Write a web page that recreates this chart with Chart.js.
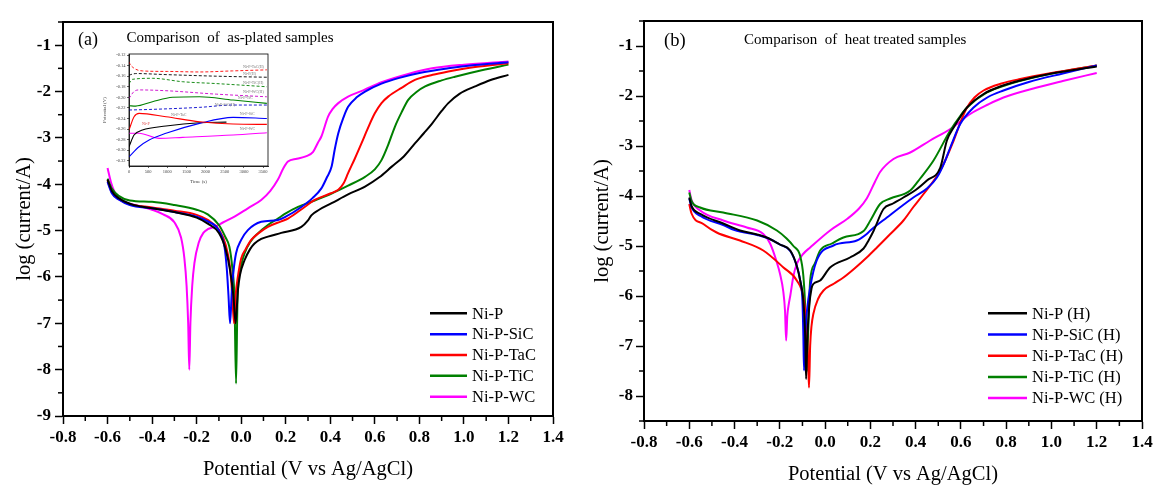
<!DOCTYPE html>
<html><head><meta charset="utf-8">
<script src="https://cdn.jsdelivr.net/npm/chart.js@4.4.1/dist/chart.umd.min.js"></script>
<style>
html,body{margin:0;padding:0;background:#fff;}
#wrap{position:relative;width:1169px;height:494px;overflow:hidden;background:#fff;}
canvas{position:absolute;}
</style></head><body>
<div id="wrap">
<canvas id="ca" width="585" height="494" style="left:0;top:0"></canvas>
<canvas id="cb" width="584" height="494" style="left:585px;top:0"></canvas>
<canvas id="ci" width="175" height="140" style="left:100px;top:48px"></canvas>
</div>
<script>
// ---------------- DATA ----------------
const seriesNames = ['Ni-P', 'Ni-P-SiC', 'Ni-P-TaC', 'Ni-P-TiC', 'Ni-P-WC'];
const seriesNamesH = ['Ni-P (H)', 'Ni-P-SiC (H)', 'Ni-P-TaC (H)', 'Ni-P-TiC (H)', 'Ni-P-WC (H)'];
const seriesColors = ['#000000', '#0000ff', '#ff0000', '#008000', '#ff00ff'];

const xTickVals = [-0.8, -0.6, -0.4, -0.2, 0.0, 0.2, 0.4, 0.6, 0.8, 1.0, 1.2, 1.4];
const yTickValsA = [-9, -8, -7, -6, -5, -4, -3, -2, -1];
const yTickValsB = [-8, -7, -6, -5, -4, -3, -2, -1];

// (a) as-plated: [potential V, log(current/A)]
const asPlatedNiP = [[-0.6,-3.9],[-0.58,-4.15],[-0.55,-4.3],[-0.5,-4.42],[-0.45,-4.48],[-0.4,-4.52],[-0.3,-4.6],[-0.2,-4.72],[-0.15,-4.85],[-0.1,-5.05],[-0.07,-5.4],[-0.05,-5.85],[-0.035,-6.4],[-0.025,-7.0],[-0.015,-6.3],[-0.005,-5.95],[0.015,-5.64],[0.04,-5.4],[0.06,-5.28],[0.09,-5.18],[0.12,-5.13],[0.18,-5.05],[0.27,-4.92],[0.3,-4.78],[0.315,-4.67],[0.35,-4.55],[0.406,-4.41],[0.48,-4.22],[0.556,-4.05],[0.62,-3.85],[0.676,-3.62],[0.73,-3.4],[0.78,-3.12],[0.82,-2.9],[0.857,-2.69],[0.9,-2.42],[0.93,-2.25],[0.98,-2.05],[1.05,-1.89],[1.12,-1.75],[1.2,-1.64]];
const asPlatedSiC = [[-0.6,-3.95],[-0.58,-4.2],[-0.55,-4.33],[-0.5,-4.45],[-0.4,-4.52],[-0.3,-4.6],[-0.2,-4.7],[-0.15,-4.8],[-0.1,-5.0],[-0.075,-5.35],[-0.065,-5.8],[-0.057,-6.4],[-0.05,-7.0],[-0.042,-6.3],[-0.035,-5.9],[-0.023,-5.49],[0.0,-5.2],[0.03,-4.99],[0.09,-4.81],[0.165,-4.77],[0.2,-4.7],[0.27,-4.49],[0.32,-4.3],[0.36,-4.09],[0.385,-3.85],[0.406,-3.62],[0.42,-3.25],[0.436,-2.9],[0.46,-2.55],[0.48,-2.33],[0.52,-2.12],[0.556,-2.0],[0.63,-1.83],[0.706,-1.71],[0.8,-1.6],[0.93,-1.5],[1.05,-1.43],[1.2,-1.37]];
const asPlatedTaC = [[-0.6,-3.92],[-0.58,-4.18],[-0.55,-4.32],[-0.5,-4.43],[-0.4,-4.5],[-0.3,-4.57],[-0.2,-4.66],[-0.15,-4.77],[-0.1,-4.98],[-0.07,-5.3],[-0.05,-5.8],[-0.04,-6.4],[-0.032,-7.0],[-0.025,-6.4],[-0.015,-6.0],[0.0,-5.6],[0.02,-5.4],[0.045,-5.2],[0.08,-5.05],[0.12,-4.92],[0.18,-4.8],[0.21,-4.74],[0.285,-4.49],[0.33,-4.34],[0.4,-4.2],[0.436,-4.12],[0.46,-3.98],[0.48,-3.76],[0.51,-3.45],[0.54,-3.12],[0.57,-2.78],[0.6,-2.47],[0.63,-2.25],[0.66,-2.11],[0.72,-1.92],[0.78,-1.75],[0.86,-1.64],[0.93,-1.57],[1.05,-1.47],[1.2,-1.39]];
const asPlatedTiC = [[-0.6,-3.88],[-0.58,-4.1],[-0.55,-4.25],[-0.5,-4.35],[-0.4,-4.38],[-0.3,-4.45],[-0.2,-4.55],[-0.15,-4.65],[-0.1,-4.88],[-0.07,-5.15],[-0.053,-5.35],[-0.04,-5.8],[-0.03,-6.5],[-0.023,-8.3],[-0.017,-6.6],[-0.012,-6.07],[0.0,-5.75],[0.015,-5.49],[0.04,-5.25],[0.075,-5.06],[0.12,-4.88],[0.165,-4.74],[0.2,-4.63],[0.255,-4.49],[0.33,-4.35],[0.406,-4.2],[0.48,-4.03],[0.556,-3.84],[0.6,-3.68],[0.63,-3.48],[0.66,-3.15],[0.69,-2.76],[0.72,-2.45],[0.75,-2.18],[0.79,-2.0],[0.826,-1.89],[0.9,-1.76],[0.96,-1.68],[1.08,-1.54],[1.2,-1.42]];
const asPlatedWC = [[-0.6,-3.65],[-0.585,-3.95],[-0.57,-4.15],[-0.55,-4.3],[-0.5,-4.42],[-0.45,-4.48],[-0.4,-4.55],[-0.35,-4.65],[-0.3,-4.82],[-0.27,-5.15],[-0.255,-5.6],[-0.245,-6.2],[-0.238,-7.0],[-0.233,-8.0],[-0.228,-7.0],[-0.22,-6.2],[-0.21,-5.7],[-0.19,-5.25],[-0.17,-5.05],[-0.15,-4.97],[-0.12,-4.92],[-0.08,-4.82],[-0.03,-4.7],[0.03,-4.52],[0.09,-4.34],[0.13,-4.15],[0.165,-3.9],[0.19,-3.65],[0.21,-3.51],[0.25,-3.45],[0.29,-3.4],[0.323,-3.3],[0.345,-3.1],[0.36,-2.97],[0.39,-2.54],[0.41,-2.38],[0.436,-2.25],[0.48,-2.11],[0.55,-1.97],[0.63,-1.8],[0.75,-1.62],[0.857,-1.5],[1.0,-1.42],[1.2,-1.35]];

// (b) heat treated
const heatNiP = [[-0.6,-4.03],[-0.59,-4.2],[-0.55,-4.36],[-0.45,-4.55],[-0.376,-4.69],[-0.3,-4.77],[-0.258,-4.83],[-0.2,-4.97],[-0.154,-5.09],[-0.125,-5.4],[-0.11,-5.69],[-0.096,-6.1],[-0.088,-6.8],[-0.084,-7.66],[-0.078,-6.8],[-0.07,-6.2],[-0.06,-5.85],[-0.052,-5.76],[-0.022,-5.69],[0.022,-5.43],[0.11,-5.23],[0.17,-5.05],[0.192,-4.89],[0.214,-4.7],[0.258,-4.26],[0.3,-4.15],[0.346,-4.03],[0.4,-3.88],[0.45,-3.69],[0.509,-3.43],[0.538,-2.89],[0.568,-2.63],[0.6,-2.4],[0.627,-2.23],[0.7,-1.96],[0.78,-1.8],[0.862,-1.69],[1.0,-1.55],[1.2,-1.41]];
const heatSiC = [[-0.6,-4.05],[-0.59,-4.22],[-0.55,-4.4],[-0.45,-4.58],[-0.4,-4.68],[-0.3,-4.78],[-0.25,-4.85],[-0.2,-4.97],[-0.154,-5.1],[-0.125,-5.4],[-0.11,-5.69],[-0.1,-6.1],[-0.096,-6.8],[-0.093,-7.49],[-0.088,-6.8],[-0.08,-6.3],[-0.066,-5.83],[-0.037,-5.29],[0.037,-4.99],[0.14,-4.89],[0.184,-4.76],[0.2,-4.69],[0.273,-4.43],[0.39,-4.03],[0.45,-3.85],[0.494,-3.63],[0.53,-3.3],[0.553,-3.03],[0.597,-2.56],[0.656,-2.23],[0.72,-2.02],[0.788,-1.89],[0.9,-1.72],[1.05,-1.55],[1.2,-1.39]];
const heatTaC = [[-0.6,-4.16],[-0.59,-4.35],[-0.538,-4.56],[-0.479,-4.73],[-0.376,-4.89],[-0.273,-5.09],[-0.184,-5.43],[-0.125,-5.69],[-0.096,-6.03],[-0.082,-6.6],[-0.075,-7.3],[-0.071,-7.83],[-0.066,-7.0],[-0.06,-6.6],[-0.052,-6.36],[-0.03,-6.05],[-0.007,-5.89],[0.04,-5.75],[0.081,-5.63],[0.13,-5.45],[0.184,-5.23],[0.229,-5.03],[0.288,-4.76],[0.346,-4.49],[0.39,-4.22],[0.435,-3.96],[0.509,-3.49],[0.568,-2.89],[0.6,-2.5],[0.627,-2.23],[0.66,-2.03],[0.7,-1.89],[0.78,-1.75],[0.862,-1.66],[1.0,-1.54],[1.2,-1.39]];
const heatTiC = [[-0.6,-3.93],[-0.59,-4.1],[-0.552,-4.23],[-0.45,-4.33],[-0.3,-4.49],[-0.213,-4.69],[-0.17,-4.85],[-0.14,-5.0],[-0.11,-5.2],[-0.096,-5.6],[-0.088,-6.2],[-0.083,-6.9],[-0.08,-7.5],[-0.076,-6.9],[-0.07,-6.1],[-0.066,-5.69],[-0.045,-5.35],[-0.022,-5.09],[0.03,-4.95],[0.081,-4.83],[0.17,-4.7],[0.2,-4.49],[0.243,-4.16],[0.288,-4.05],[0.376,-3.89],[0.42,-3.65],[0.479,-3.29],[0.553,-2.69],[0.6,-2.38],[0.627,-2.23],[0.715,-1.93],[0.8,-1.78],[0.95,-1.6],[1.2,-1.39]];
const heatWC = [[-0.6,-3.88],[-0.59,-4.08],[-0.552,-4.29],[-0.45,-4.49],[-0.346,-4.63],[-0.273,-4.76],[-0.243,-4.95],[-0.215,-5.3],[-0.199,-5.56],[-0.185,-5.9],[-0.177,-6.3],[-0.172,-6.89],[-0.167,-6.4],[-0.16,-6.15],[-0.154,-6.0],[-0.14,-5.6],[-0.125,-5.36],[-0.095,-5.15],[-0.066,-5.03],[0.022,-4.69],[0.1,-4.45],[0.15,-4.25],[0.184,-4.05],[0.22,-3.72],[0.243,-3.52],[0.302,-3.26],[0.376,-3.13],[0.464,-2.89],[0.553,-2.66],[0.641,-2.36],[0.72,-2.17],[0.788,-2.03],[0.936,-1.83],[1.05,-1.7],[1.2,-1.54]];

// inset: open circuit potential vs time  [time s, potential V]
const insetTimeTicks = [0, 500, 1000, 1500, 2000, 2500, 3000, 3500];
const insetPotTicks = [-0.32, -0.30, -0.28, -0.26, -0.24, -0.22, -0.20, -0.18, -0.16, -0.14, -0.12];
const ocpTaCH = [[0,-0.133],[18,-0.136],[132,-0.145],[350,-0.150],[1000,-0.151],[1842,-0.152],[2700,-0.150],[3600,-0.148]];
const ocpNiPH = [[0,-0.158],[45,-0.157],[176,-0.155],[966,-0.157],[2282,-0.160],[3600,-0.162]];
const ocpTiCH = [[0,-0.174],[87,-0.166],[613,-0.164],[1403,-0.1705],[2282,-0.174],[3600,-0.180]];
const ocpWCH = [[0,-0.202],[132,-0.189],[263,-0.186],[966,-0.1875],[2282,-0.194],[3600,-0.199]];
const ocpSiCH = [[0,-0.224],[526,-0.223],[1842,-0.219],[2718,-0.2146],[3600,-0.2146]];
const ocpTiC = [[0,-0.216],[176,-0.2166],[613,-0.2083],[1139,-0.200],[1842,-0.1989],[2718,-0.2052],[3600,-0.2114]];
const ocpTaC = [[0,-0.262],[132,-0.2367],[263,-0.2303],[966,-0.2367],[1842,-0.2462],[2718,-0.2506],[3600,-0.2512]];
const ocpSiC = [[0,-0.3125],[263,-0.2935],[526,-0.2808],[966,-0.2681],[1842,-0.2493],[2718,-0.2379],[3600,-0.240]];
const ocpNiP = [[0,-0.2935],[132,-0.2714],[350,-0.262],[966,-0.2543],[1842,-0.248],[2545,-0.247]];
const ocpWC = [[0,-0.268],[263,-0.268],[789,-0.2777],[1403,-0.2758],[2718,-0.2714],[3600,-0.267]];
const insetLabelText = ['Ni-P-TaC(H)', 'Ni-P(H)', 'Ni-P-TiC(H)', 'Ni-P-WC(H)', 'Ni-P-TiC', 'Ni-P-SiC(H)', 'Ni-P-SiC', 'Ni-P-TaC', 'Ni-P', 'Ni-P-WC'];
const insetLabelT = [2974, 2974, 2974, 2974, 2842, 2237, 2895, 1097, 342, 2895];
const insetLabelV = [-0.1427, -0.1554, -0.173, -0.1906, -0.2014, -0.214, -0.231, -0.234, -0.251, -0.26];

// ---------------- RENDERING ----------------
const SERIF = "'Liberation Serif', 'Times New Roman', serif";
const toXY = arr => arr.map(p => ({x: p[0], y: p[1]}));

const decor = {
  id: 'decor',
  afterDraw(chart, args, o) {
    const ctx = chart.ctx, a = chart.chartArea;
    ctx.save();
    ctx.strokeStyle = '#000';
    ctx.lineWidth = o.frameWidth || 1;
    ctx.strokeRect(a.left, a.top, a.right - a.left, a.bottom - a.top);
    // minor ticks
    if (o.minorX) {
      const s = chart.scales.x; ctx.lineWidth = o.minorWidth || 1.2;
      const tv = s.ticks.map(t => t.value);
      for (let i = 0; i < tv.length - 1; i++) {
        const px = s.getPixelForValue((tv[i] + tv[i + 1]) / 2);
        ctx.beginPath(); ctx.moveTo(px, a.bottom); ctx.lineTo(px, a.bottom + o.minorLen); ctx.stroke();
      }
    }
    if (o.minorY) {
      const s = chart.scales.y; ctx.lineWidth = o.minorWidth || 1.2;
      const tv = s.ticks.map(t => t.value);
      const all = [];
      for (let i = 0; i < tv.length - 1; i++) all.push((tv[i] + tv[i + 1]) / 2);
      all.push(tv[tv.length - 1] + (tv[1] - tv[0]) / 2);
      if (tv[0] - (tv[1] - tv[0]) / 2 >= s.min) all.push(tv[0] - (tv[1] - tv[0]) / 2);
      all.forEach(v => {
        if (v < s.min || v > s.max) return;
        const py = s.getPixelForValue(v);
        ctx.beginPath(); ctx.moveTo(a.left, py); ctx.lineTo(a.left - o.minorLen, py); ctx.stroke();
      });
    }
    // texts
    (o.texts || []).forEach(t => {
      ctx.font = t.font; ctx.fillStyle = '#000'; ctx.textAlign = 'left'; ctx.textBaseline = 'middle';
      ctx.fillText(t.text, t.x, t.y);
    });
    // in-plot legend
    if (o.legend) {
      const L = o.legend;
      chart.data.datasets.forEach((ds, i) => {
        const y = L.y0 + i * L.dy;
        ctx.strokeStyle = ds.borderColor; ctx.lineWidth = 2.5;
        ctx.beginPath(); ctx.moveTo(L.x0, y); ctx.lineTo(L.x1, y); ctx.stroke();
        ctx.fillStyle = '#000'; ctx.font = L.font; ctx.textAlign = 'left'; ctx.textBaseline = 'middle';
        ctx.fillText(ds.label, L.tx, y + 1);
      });
    }
    // inset curve labels
    if (o.curveLabels) {
      ctx.font = "4px " + SERIF; ctx.textAlign = 'left'; ctx.textBaseline = 'middle';
      insetLabelText.forEach((t, i) => {
        ctx.fillStyle = o.curveLabels[i];
        ctx.fillText(t, chart.scales.x.getPixelForValue(insetLabelT[i]), chart.scales.y.getPixelForValue(insetLabelV[i]));
      });
    }
    ctx.restore();
  }
};

function mainOptions(cfg) {
  return {
    responsive: false, animation: false, devicePixelRatio: 1,
    layout: { padding: { left: 0, top: cfg.top, right: cfg.right, bottom: 0 } },
    elements: { point: { radius: 0 } },
    plugins: {
      legend: { display: false }, tooltip: { enabled: false },
      decor: { frameWidth: 2, minorX: true, minorY: true, minorLen: 5, minorWidth: 1.5, texts: cfg.texts, legend: cfg.legend }
    },
    scales: {
      x: {
        type: 'linear', min: -0.8, max: 1.4,
        afterBuildTicks: s => { s.ticks = xTickVals.map(v => ({ value: v })); },
        afterFit: s => { s.height = cfg.xHeight; },
        ticks: { callback: v => Number(v).toFixed(1), font: { family: SERIF, size: 17, weight: 'bold' }, color: '#000', padding: 3, maxRotation: 0, autoSkip: false },
        grid: { drawOnChartArea: false, tickLength: 8, tickWidth: 1.5, tickColor: '#000' },
        border: { color: '#000', width: 2 },
        title: { display: true, text: 'Potential (V vs Ag/AgCl)', font: { family: SERIF, size: 20.5 }, color: '#000', padding: { top: 0, bottom: cfg.xTitlePad } }
      },
      y: {
        type: 'linear', min: cfg.yMin, max: -0.5,
        afterBuildTicks: s => { s.ticks = cfg.yTicks.map(v => ({ value: v })); },
        afterFit: s => { s.width = cfg.yWidth; },
        ticks: { callback: v => String(v), font: { family: SERIF, size: 17, weight: 'bold' }, color: '#000', padding: cfg.yPad, autoSkip: false },
        grid: { drawOnChartArea: false, tickLength: 8, tickWidth: 1.5, tickColor: '#000' },
        border: { color: '#000', width: 2 },
        title: { display: true, text: 'log (current/A)', font: { family: SERIF, size: 20.5 }, color: '#000', padding: { top: cfg.yTitlePad, bottom: 0 } }
      }
    }
  };
}

function lineDs(label, data, color, width, dash) {
  return { label, data: toXY(data), borderColor: color, backgroundColor: color, borderWidth: width,
    borderDash: dash || [], showLine: true, pointRadius: 0, fill: false, cubicInterpolationMode: 'monotone' };
}

const aSeries = [asPlatedNiP, asPlatedSiC, asPlatedTaC, asPlatedTiC, asPlatedWC];
const bSeries = [heatNiP, heatSiC, heatTaC, heatTiC, heatWC];

new Chart(document.getElementById('ca'), {
  type: 'scatter',
  data: { datasets: aSeries.map((s, i) => lineDs(seriesNames[i], s, seriesColors[i], 2)) },
  options: mainOptions({
    top: 22, right: 32, xHeight: 78, yWidth: 63, yMin: -9, yTicks: yTickValsA, yPad: 4, yTitlePad: 12, xTitlePad: 12,
    texts: [
      { text: '(a)', x: 78, y: 40.5, font: '18px ' + SERIF },
      { text: 'Comparison  of  as-plated samples', x: 126.5, y: 38, font: '15px ' + SERIF }
    ],
    legend: { x0: 430, x1: 467, tx: 472, y0: 313.3, dy: 20.85, font: '16.5px ' + SERIF }
  }),
  plugins: [decor]
});

new Chart(document.getElementById('cb'), {
  type: 'scatter',
  data: { datasets: bSeries.map((s, i) => lineDs(seriesNamesH[i], s, seriesColors[i], 2)) },
  options: mainOptions({
    top: 21, right: 27, xHeight: 73, yWidth: 59, yMin: -8.5, yTicks: yTickValsB, yPad: 3, yTitlePad: 5, xTitlePad: 7,
    texts: [
      { text: '(b)', x: 79, y: 40.7, font: '18.5px ' + SERIF },
      { text: 'Comparison  of  heat treated samples', x: 159, y: 40.5, font: '15px ' + SERIF }
    ],
    legend: { x0: 403, x1: 442, tx: 447, y0: 313.3, dy: 21.2, font: '16.5px ' + SERIF }
  }),
  plugins: [decor]
});

const insetSeries = [ocpTaCH, ocpNiPH, ocpTiCH, ocpWCH, ocpSiCH, ocpTiC, ocpTaC, ocpSiC, ocpNiP, ocpWC];
const insetColors = ['#ff0000', '#000000', '#008000', '#cc00cc', '#0000cc', '#008000', '#ff0000', '#0000ff', '#000000', '#ff00ff'];
const insetDashed = [true, true, true, true, true, false, false, false, false, false];
const insetLabelColors = ['#777', '#777', '#777', '#777', '#777', '#777', '#777', '#777', '#d44', '#777'];

new Chart(document.getElementById('ci'), {
  type: 'scatter',
  data: { datasets: insetSeries.map((s, i) => lineDs(insetLabelText[i], s, insetColors[i], insetDashed[i] ? 0.9 : 1.1, insetDashed[i] ? [3, 2] : [])) },
  options: {
    responsive: false, animation: false, devicePixelRatio: 1,
    layout: { padding: { left: 0, top: 6, right: 7, bottom: 0 } },
    plugins: { legend: { display: false }, tooltip: { enabled: false },
      decor: { frameWidth: 0.8, minorX: false, minorY: false, curveLabels: insetLabelColors } },
    scales: {
      x: {
        type: 'linear', min: 0, max: 3630,
        afterBuildTicks: s => { s.ticks = insetTimeTicks.map(v => ({ value: v })); },
        afterFit: s => { s.height = 22; },
        ticks: { callback: v => String(v), font: { family: SERIF, size: 4.5 }, color: '#444', padding: 1.5, maxRotation: 0, autoSkip: false },
        grid: { drawOnChartArea: false, tickLength: 2, tickWidth: 0.6, tickColor: '#000' },
        border: { color: '#000', width: 0.8 },
        title: { display: true, text: 'Time (s)', font: { family: SERIF, size: 5 }, color: '#444', padding: { top: 0, bottom: 3.3 } }
      },
      y: {
        type: 'linear', min: -0.33, max: -0.118,
        afterBuildTicks: s => { s.ticks = insetPotTicks.map(v => ({ value: v })); },
        afterFit: s => { s.width = 29; },
        ticks: { callback: v => Number(v).toFixed(2), font: { family: SERIF, size: 4.5 }, color: '#444', padding: 1.5, autoSkip: false },
        grid: { drawOnChartArea: false, tickLength: 2, tickWidth: 0.6, tickColor: '#000' },
        border: { color: '#000', width: 0.8 },
        title: { display: true, text: 'Potential (V)', font: { family: SERIF, size: 5 }, color: '#444', padding: { top: 2, bottom: 0 } }
      }
    }
  },
  plugins: [decor]
});
</script>
</body></html>
